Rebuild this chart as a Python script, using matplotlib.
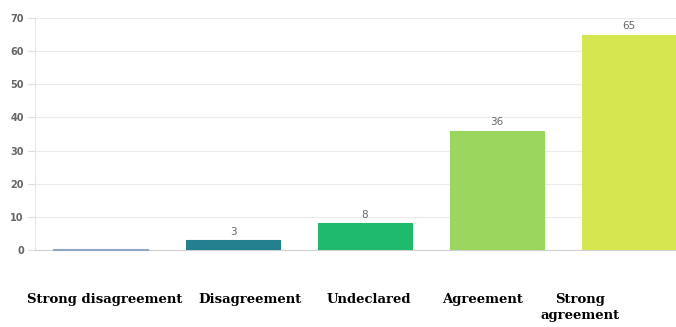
import matplotlib.pyplot as plt

categories = ['Strong disagreement', 'Disagreement', 'Undeclared', 'Agreement', 'Strong\nagreement']
values = [0, 3, 8, 36, 65]
colors = ['#8fa8c4', '#23818f', '#1fba6c', '#9bd75e', '#d6e64e']
label_x = [105, 250, 369, 483, 580]  # pixel centres of the text labels under the chart

W, H = 676, 327
fig = plt.figure(figsize=(W / 100, H / 100), dpi=100)
ax = fig.add_axes([35 / W, 77 / H, 660 / W, 232 / H])

x = range(len(values))
bars = ax.bar(x, values, width=0.71, color=colors, edgecolor=colors, linewidth=0.8, zorder=3)
for bar, v, c in zip(bars, values, colors):
    if v > 0:
        ax.text(bar.get_x() + bar.get_width() / 2, v + 1, str(v), ha='center', va='bottom',
                fontsize=7.5, color='#666666')
    else:
        # zero-height bar still shows as a thin coloured line
        ax.plot([bar.get_x(), bar.get_x() + bar.get_width()], [0, 0], color=c,
                linewidth=1.5, zorder=4, clip_on=False)

ax.set_xlim(-0.5, len(values) - 0.5)
ax.set_ylim(0, 70)
ax.set_yticks(range(0, 71, 10))
ax.set_xticks([])
ax.grid(axis='y', color='#ebebeb', linewidth=0.8, zorder=0)
for s in ['top', 'right']:
    ax.spines[s].set_visible(False)
ax.spines['left'].set_color('#e6e6e6')
ax.spines['bottom'].set_color('#d0d0d0')
ax.tick_params(axis='y', length=5, color='#dddddd', labelsize=7, labelcolor='#666666', pad=3)
for t in ax.get_yticklabels():
    t.set_fontweight('bold')

for lab, px in zip(categories, label_x):
    fig.text(px / W, 1 - 293 / H, lab, ha='center', va='top', fontsize=9.5,
             fontweight='bold', family='DejaVu Serif', linespacing=1.25)

fig.savefig('out.png', dpi=100)
